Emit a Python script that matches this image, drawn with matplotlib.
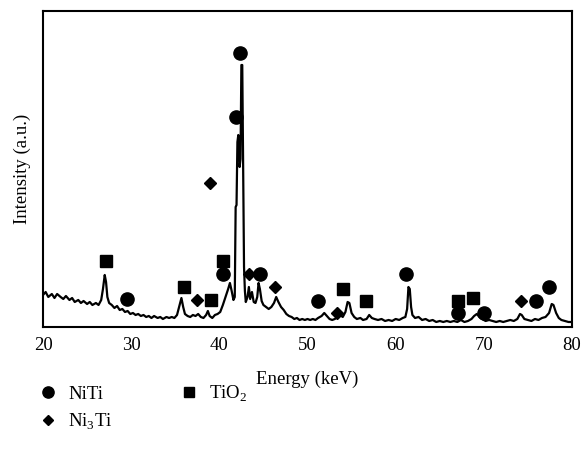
import matplotlib
matplotlib.use('Agg')
import matplotlib.pyplot as plt

# XRD-like spectrum (height in arbitrary units)
energy = [20.0, 20.3, 20.6, 21.0, 21.3, 21.6, 22.0, 22.3, 22.6, 23.0, 23.3, 23.6,
          24.0, 24.3, 24.6, 25.0, 25.3, 25.6, 26.0, 26.3, 26.6, 26.8, 27.0, 27.15,
          27.3, 27.5, 27.8, 28.1, 28.4, 28.7, 29.0, 29.3, 29.6, 29.9, 30.2, 30.5,
          30.8, 31.1, 31.4, 31.7, 32.0, 32.3, 32.6, 33.0, 33.3, 33.6, 34.0, 34.3,
          34.6, 34.9, 35.2, 35.5, 35.7, 35.9, 36.1, 36.4, 36.7, 37.0, 37.3, 37.6,
          37.9, 38.2, 38.5, 38.7, 38.9, 39.2, 39.5, 39.8, 40.1, 40.4, 40.7, 41.0,
          41.2, 41.4, 41.6, 41.75, 41.85, 41.95, 42.05, 42.15, 42.3, 42.4, 42.5, 42.6,
          42.7, 42.8, 42.9, 43.0, 43.2, 43.35, 43.5, 43.7, 43.9, 44.1, 44.3, 44.45,
          44.6, 44.8, 45.0, 45.3, 45.6, 45.9, 46.2, 46.45, 46.7, 47.0, 47.3, 47.6,
          47.9, 48.2, 48.5, 48.8, 49.1, 49.4, 49.7, 50.0, 50.3, 50.6, 50.9, 51.2,
          51.6, 51.9, 52.2, 52.5, 52.8, 53.1, 53.4, 53.7, 54.0, 54.3, 54.55, 54.75,
          55.0, 55.3, 55.6, 56.0, 56.3, 56.7, 57.0, 57.3, 57.6, 58.0, 58.4, 58.8,
          59.2, 59.6, 60.0, 60.4, 60.8, 61.1, 61.3, 61.45, 61.6, 61.75, 61.9, 62.2,
          62.6, 63.0, 63.4, 63.8, 64.2, 64.6, 65.0, 65.4, 65.8, 66.2, 66.6, 67.0,
          67.4, 67.8, 68.2, 68.6, 68.9, 69.2, 69.5, 69.8, 70.2, 70.6, 71.0, 71.4,
          71.8, 72.2, 72.6, 73.0, 73.4, 73.8, 74.1, 74.3, 74.6, 75.0, 75.4, 75.8,
          76.2, 76.6, 77.0, 77.4, 77.7, 77.9, 78.2, 78.5, 78.8, 79.2, 79.6, 80.0]
intensity = [32, 35, 30, 33, 29, 33, 30, 28, 31, 27, 29, 25,
             27, 24, 26, 23, 25, 22, 24, 22, 27, 38, 52, 45,
             30, 24, 22, 19, 21, 17, 18, 15, 16, 13, 14, 12,
             13, 11, 12, 10, 11, 9, 11, 9, 10, 8, 10, 9,
             10, 9, 12, 22, 29, 20, 13, 11, 10, 12, 11, 13,
             10, 9, 12, 16, 11, 9, 12, 13, 15, 22, 30, 38,
             44, 36, 27, 30, 120, 122, 185, 192, 160, 168, 262, 262,
             160, 60, 36, 25, 30, 40, 28, 35, 25, 24, 30, 44,
             38, 26, 22, 20, 18, 20, 24, 30, 25, 20, 17, 13,
             11, 10, 8, 9, 7, 8, 7, 8, 7, 8, 7, 9,
             11, 14, 11, 8, 7, 8, 10, 12, 10, 15, 25, 24,
             14, 10, 8, 9, 7, 8, 12, 9, 8, 7, 8, 6,
             7, 6, 8, 7, 9, 10, 18, 40, 38, 20, 12, 9,
             10, 7, 8, 6, 7, 5, 6, 5, 6, 5, 6, 5,
             7, 5, 6, 8, 11, 13, 10, 8, 6, 7, 6, 5,
             6, 5, 6, 7, 6, 8, 13, 12, 8, 7, 6, 8,
             7, 9, 10, 14, 23, 22, 14, 9, 7, 6, 5, 5]

# phase markers
niti_x = [29.5, 40.4, 41.9, 42.4, 44.6, 51.2, 61.2, 67.1, 70.0, 75.9, 77.4]
niti_y = [28, 53, 210, 274, 53, 26, 53, 14, 14, 26, 40]
tio2_x = [27.1, 36.0, 39.0, 40.4, 54.0, 56.6, 67.1, 68.8]
tio2_y = [66, 40, 27, 66, 38, 26, 26, 29]
ni3ti_x = [37.5, 38.9, 43.4, 46.3, 53.4, 74.2]
ni3ti_y = [27, 144, 53, 40, 14, 26]

xticks = [20, 30, 40, 50, 60, 70, 80]

plt.rcParams['font.family'] = ['Liberation Serif', 'DejaVu Serif']
plt.rcParams['mathtext.fontset'] = 'custom'
plt.rcParams['mathtext.rm'] = 'Liberation Serif'
plt.rcParams['font.size'] = 13.5

fig = plt.figure(figsize=(5.82, 4.61), dpi=100)
ax = fig.add_axes([0.0739, 0.2907, 0.9089, 0.6854])

ax.plot(energy, intensity, color='black', linewidth=1.6)
ax.plot(niti_x, niti_y, 'o', color='black', markersize=9.5, label='NiTi')
ax.plot(ni3ti_x, ni3ti_y, 'D', color='black', markersize=6.5, label='Ni$_3$Ti')
ax.plot(tio2_x, tio2_y, 's', color='black', markersize=9, label='TiO$_2$')

ax.set_xlim(20, 80)
ax.set_ylim(0, 316)
ax.set_xticks(xticks)
ax.set_yticks([])
ax.tick_params(axis='x', length=0, pad=7)
for s in ax.spines.values():
    s.set_linewidth(1.5)

ax.set_xlabel('Energy (keV)', labelpad=12)
ax.set_ylabel('Intensity (a.u.)', labelpad=9)

fig.legend(loc='upper left', bbox_to_anchor=(0.04, 0.204), ncol=2, frameon=False,
           markerscale=0.85, handletextpad=0.7, columnspacing=3.65,
           labelspacing=0.45, handlelength=0.8)

plt.savefig('out.png', dpi=100)
